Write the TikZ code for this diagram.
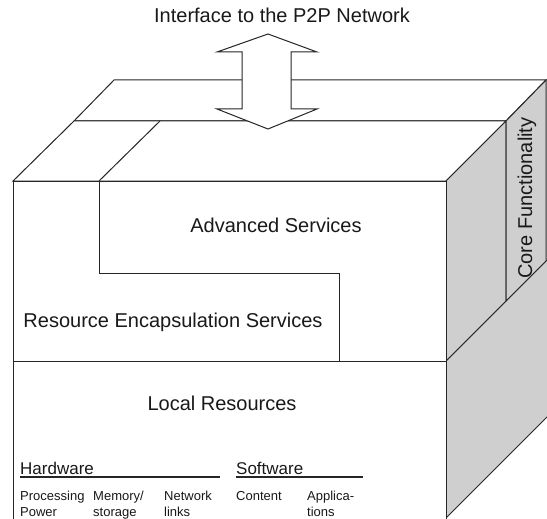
\documentclass[tikz,border=0pt]{standalone}
\usepackage{fontspec}
\setmainfont{Liberation Sans}
\begin{document}
\begin{tikzpicture}[x=1pt,y=-1pt,
  edge/.style={draw=black!85,line width=1pt,line join=miter},
  side/.style={edge,fill=black!19},
  face/.style={edge,fill=white},
  big/.style={font=\fontsize{20}{24}\selectfont,inner sep=0pt,anchor=base,text=black!90},
  mid/.style={font=\fontsize{17}{20}\selectfont,inner sep=0pt,anchor=base west,text=black!90},
  small/.style={font=\fontsize{13}{16}\selectfont,inner sep=0pt,anchor=base west,align=left,text=black!90}]
\useasboundingbox (0,0) rectangle (547,519);
\clip (0,0) rectangle (547,519);
% key points
\coordinate (FTL) at (13,181);
\coordinate (FTR) at (446,181);
\coordinate (FML) at (13,361);
\coordinate (FMR) at (446,361);
\coordinate (FBL) at (13,530);
\coordinate (FBR) at (446,518);
\coordinate (MTL) at (74,121);
\coordinate (MTR) at (506,121);
\coordinate (MBR) at (506,301);
\coordinate (BTL) at (114,80);
\coordinate (BTR) at (546,80);
\coordinate (BBR) at (546,261);
% top faces
\draw[face] (MTL) -- (BTL) -- (BTR) -- (MTR) -- cycle;
\draw[face] (FTL) -- (MTL) -- (MTR) -- (FTR) -- cycle;
\draw[edge] (99,181) -- (160,121);
% side faces
\fill[black!19] (FMR) -- (560,247) -- (560,404) -- (FBR) -- cycle;
\draw[edge] (FMR) -- (560,247);
\draw[edge] (FBR) -- (560,404);
\draw[side] (FTR) -- (MTR) -- (MBR) -- (FMR) -- cycle;
\draw[side] (MTR) -- (BTR) -- (BBR) -- (MBR) -- cycle;
% front face
\draw[face] (FBL) -- (FTL) -- (FTR) -- (446,530);
\draw[edge] (FML) -- (FMR);
\draw[edge] (99,181) -- (99,273) -- (339,273) -- (339,361);
% arrow
\draw[face] (268,34) -- (317,52) -- (291,52) -- (291,109) -- (317,109) -- (268,129)
  -- (217,109) -- (242,109) -- (242,52) -- (217,52) -- cycle;
% texts
\node[big] (title) at (282,23) {Interface to the P2P Network};
\node[big] (adv) at (276,232) {Advanced Services};
\node[big] (rec) at (173,327) {Resource Encapsulation Services};
\node[big] (loc) at (222,410) {Local Resources};
\node[big,rotate=90] (core) at (532,198) {Core Functionality};
\node[mid] (hw) at (20,474) {Hardware};
\node[mid] (sw) at (236,474) {Software};
\draw[edge,line width=1.3pt] (20,477) -- (220,477);
\draw[edge,line width=1.3pt] (236,477) -- (363,477);
\node[small] (p1) at (20,516) {Processing\\Power};
\node[small] (p2) at (93,516) {Memory/\\storage};
\node[small] (p3) at (164,516) {Network\\links};
\node[small] (p4) at (236,500) {Content};
\node[small] (p5) at (307,516) {Applica-\\tions};
\end{tikzpicture}
\end{document}
